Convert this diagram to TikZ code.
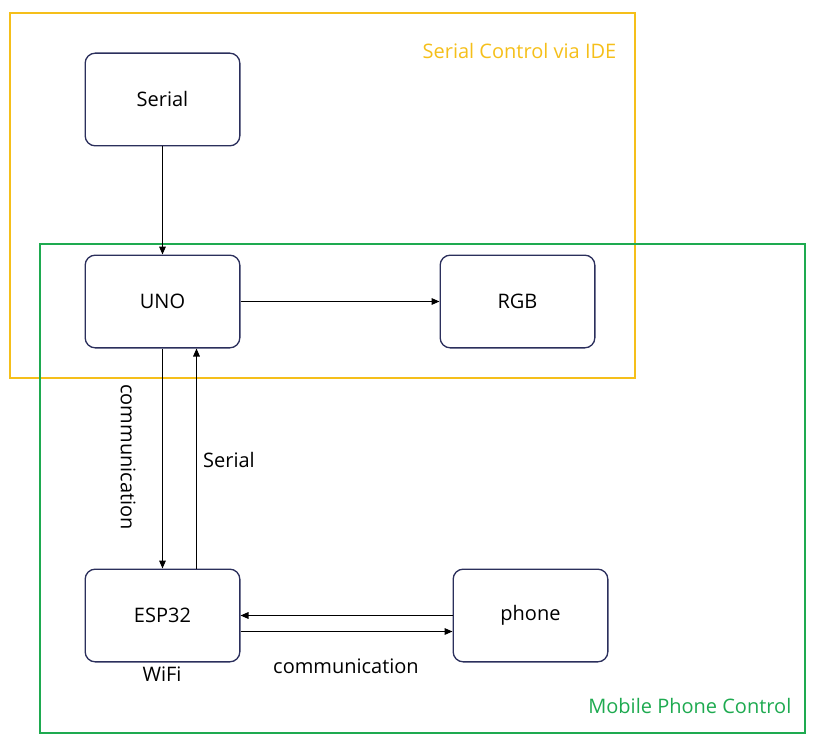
\documentclass[tikz,border=0pt]{standalone}
\usepackage{fontspec}
\setmainfont{Open Sans}
\usetikzlibrary{arrows.meta}
\definecolor{boxline}{HTML}{2B2F5C}
\definecolor{idegold}{HTML}{F5BF1A}
\definecolor{mobgreen}{HTML}{1EAA50}

\begin{document}
\begin{tikzpicture}[x=0.75pt,y=-0.75pt,font=\fontsize{15}{18}\selectfont,
	link/.style={-{Triangle[length=6pt,width=5pt]},line width=0.8pt}]
	\useasboundingbox (0,0) rectangle (826,749);
	% group frames
	\draw [idegold,line width=1.1pt] (10,13) rectangle (635,378);
	\draw [mobgreen,line width=1.1pt] (40,244) rectangle (805,733);
	\node [idegold,anchor=east] (ide) at (621,51) {Serial Control via IDE};
	\node [mobgreen,anchor=east] (mob) at (796,706) {Mobile Phone Control};
	\begin{scope}[every node/.style={draw=boxline,line width=1pt,fill=white,rounded corners=7.5pt,minimum width=116pt,minimum height=69.5pt}]
	\node (ser) at (162.5,99.5) {Serial};
	\node (uno) at (162.5,301.5) {UNO};
	\node (rgb) at (517.5,301.5) {RGB};
	\node (esp) at (162.5,615.5) {ESP32};
	\node (pho) at (530.5,615.5) {phone};
	\end{scope}
	\draw [link] (ser) -- (uno);
	\draw [link] (uno) -- (rgb);
	\draw [link] (uno) -- (esp);
	\draw [link] ([xshift=25.5pt]esp.north) -- ([xshift=25.5pt]uno.south);
	\draw [link] (pho) -- (esp);
	\draw [link] ([yshift=-12pt]esp.east) -- ([yshift=-12pt]pho.west);
	\node [rotate=-90] (comm1) at (128,457) {communication};
	\node (ser2) at (229,460) {Serial};
	\node (wifi) at (162,674) {WiFi};
	\node (comm2) at (346,666) {communication};
\end{tikzpicture}
\end{document}
